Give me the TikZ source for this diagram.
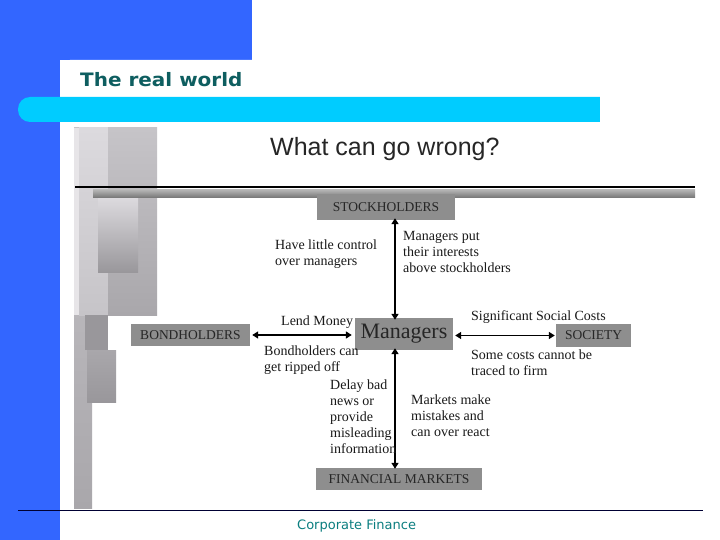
\documentclass[tikz,border=0pt]{standalone}
\usepackage{fontspec}
\setmainfont{Liberation Serif}
\newfontfamily\arialf{Liberation Sans}
\newfontfamily\titlef{DejaVu Sans}
\usetikzlibrary{arrows.meta}
\definecolor{slideblue}{HTML}{3366FF}
\definecolor{slidecyan}{HTML}{00CCFF}
\definecolor{titleteal}{HTML}{0E5E60}
\definecolor{boxgray}{HTML}{8E8E8E}
\definecolor{gA}{HTML}{DCDADE}
\definecolor{gB}{HTML}{C6C4C8}
\definecolor{gC}{HTML}{A9A7AB}
\definecolor{gD}{HTML}{99979B}
\tikzset{
  entity/.style={fill=boxgray, inner sep=0pt, font=\fontsize{13.5}{14}\selectfont, text=black!85},
  lbl/.style={font=\fontsize{14}{16}\selectfont, align=left, anchor=north west, inner sep=0pt, text=black!90},
  link/.style={line width=1.6pt, {Triangle[width=7pt,length=6pt]}-{Triangle[width=7pt,length=6pt]}},
}
\begin{document}
\begin{tikzpicture}[x=1pt,y=-1pt]
\useasboundingbox (0,0) rectangle (720,540);
\fill[white] (0,0) rectangle (720,540);
% blue frame
\fill[slideblue] (0,0) rectangle (252,60);
\fill[slideblue] (0,0) rectangle (60,540);
\fill[slideblue] (0,60) rectangle (60,74);
\fill[white] (60,70) arc[start angle=180,end angle=270,radius=10] -- (252,60) -- (252,97) -- (60,97) -- cycle;
% title
\node[anchor=west, inner sep=0pt, text=titleteal, font=\titlef\bfseries\fontsize{18.5}{20}\selectfont, xscale=1.08] (title) at (80,80) {The real world};
% cyan bar
\fill[slidecyan, rounded corners=12pt] (18,97) rectangle (640,122);
\fill[white] (600,96) rectangle (641,123);
\fill[slidecyan] (560,97) rectangle (600,122);
% gray decorative block
\shade[top color=gB, bottom color=gC] (74,128) rectangle (92,508);
\fill[gA!70!white] (74,128) rectangle (79,315);
\shade[top color=gA, bottom color=gB] (79,128) rectangle (108,315);
\shade[top color=gB, bottom color=gC] (108,128) rectangle (157,315);
\shade[top color=gA, bottom color=gD] (98,198) rectangle (138,272);
\fill[gD] (85,315) rectangle (108,350);
\shade[top color=gC, bottom color=gD] (87,350) rectangle (116,402);
% heading
\node[anchor=west, inner sep=0pt, font=\arialf\fontsize{25}{26}\selectfont, text=black!85] (head) at (270,149) {What can go wrong?};
\draw[line width=1.5pt] (75,187) -- (695,187);
\shade[top color=black!30, bottom color=black!55] (93,190) rectangle (695,198);
% entities
\node[entity, minimum width=138pt, minimum height=26pt] (sh) at (386,207) {STOCKHOLDERS};
\node[entity, minimum width=98pt, minimum height=32pt, font=\fontsize{22}{22}\selectfont] (mg) at (404,334) {Managers};
\node[entity, minimum width=119pt, minimum height=22pt] (bh) at (190.5,335) {BONDHOLDERS};
\node[entity, minimum width=75pt, minimum height=23pt] (so) at (593.5,335.5) {SOCIETY};
\node[entity, minimum width=166pt, minimum height=22pt] (fm) at (399,479) {FINANCIAL MARKETS};
% connectors
\draw[link] ([yshift=2pt]sh.south -| 395,0) -- ([yshift=-2pt]mg.north -| 395,0);
\draw[link] ([xshift=2pt]bh.east) -- ([xshift=-3pt]mg.west |- bh.east);
\draw[link] ([xshift=2pt]mg.east |- so.west) -- ([xshift=-1pt]so.west);
\draw[link] ([yshift=2pt]mg.south -| 395,0) -- ([yshift=-1pt]fm.north -| 395,0);
% labels
\node[lbl] (l1) at (275,240) {Have little control\\over managers};
\node[lbl] (l2) at (403,231) {Managers put\\their interests\\above stockholders};
\node[lbl] (l3) at (281,316) {Lend Money};
\node[lbl] (l4) at (264,346) {Bondholders can\\get ripped off};
\node[lbl] (l5) at (330,380) {Delay bad\\news or\\provide\\misleading\\information};
\node[lbl] (l6) at (411,395) {Markets make\\mistakes and\\can over react};
\node[lbl] (l7) at (471,310) {Significant Social Costs};
\node[lbl] (l8) at (471,350) {Some costs cannot be\\traced to firm};
% footer
\draw[line width=0.8pt, color=black!80!blue] (18,510) -- (703,510);
\node[anchor=west, inner sep=0pt, text=titleteal!80!cyan, font=\titlef\fontsize{13}{14}\selectfont] (foot) at (297,526) {Corporate Finance};
\end{tikzpicture}
\end{document}
